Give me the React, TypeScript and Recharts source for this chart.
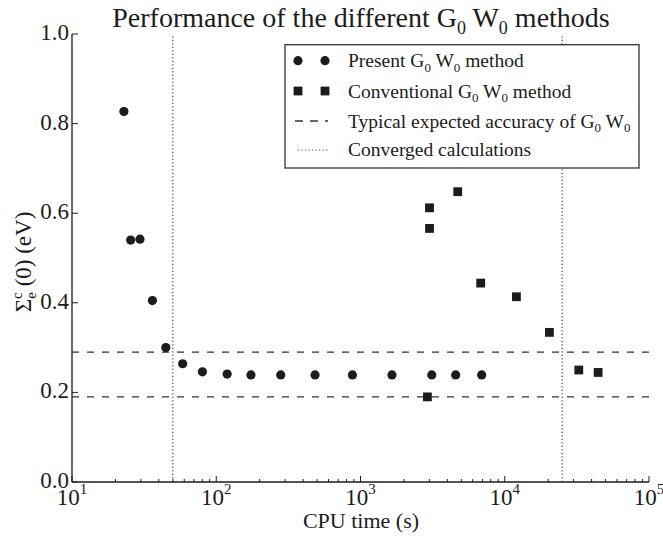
import React from 'react';
import { ScatterChart, Scatter, XAxis, YAxis, ReferenceLine } from 'recharts';

// ---- data ----
const presentTime = [22.9, 25.5, 29.6, 36.1, 44.7, 58.5, 80.2, 119, 174, 280, 484, 879, 1652, 3120, 4570, 6920];
const presentSigma = [0.827, 0.540, 0.542, 0.405, 0.300, 0.264, 0.246, 0.241, 0.239, 0.239, 0.239, 0.239, 0.239, 0.239, 0.239, 0.239];
const conventionalTime = [2910, 3010, 3010, 4720, 6810, 12050, 20400, 32600, 44400];
const conventionalSigma = [0.190, 0.612, 0.566, 0.648, 0.444, 0.4135, 0.334, 0.250, 0.2445];
const accuracyBounds = [0.19, 0.29];
const convergedTimes = [50, 25000];
const xMajorTicks = [10, 100, 1000, 10000, 100000];
const xTickExponents = ['1', '2', '3', '4', '5'];
const xMinorMultipliers = [2, 3, 4, 5, 6, 7, 8, 9];
const yTicks = [0, 0.2, 0.4, 0.6, 0.8, 1.0];
const yTickLabels = ['0.0', '0.2', '0.4', '0.6', '0.8', '1.0'];
const legendLabels = ['Present', 'Conventional', 'Typical expected accuracy of', 'Converged calculations'];

const presentData = presentTime.map((t, i) => ({ x: t, y: presentSigma[i] }));
const conventionalData = conventionalTime.map((t, i) => ({ x: t, y: conventionalSigma[i] }));
const xMinorTicks: number[] = [];
xMajorTicks.slice(0, -1).forEach((d) => xMinorMultipliers.forEach((m) => xMinorTicks.push(m * d)));
const xAllTicks = [...xMajorTicks, ...xMinorTicks].sort((a, b) => a - b);

const INK = '#1c1c1c';
const FONT = "'Liberation Serif', 'DejaVu Serif', serif";
const MAJOR = 6;
const MINOR = 3;

const BottomTick = (props: any) => {
  const { x, y, payload } = props;
  const idx = xMajorTicks.indexOf(payload.value);
  const major = idx >= 0;
  return (
    <g>
      <line x1={x} x2={x} y1={y} y2={y - (major ? MAJOR : MINOR)} stroke={INK} strokeWidth={1} />
      {major && (
        <text x={x} y={y + 23} textAnchor="middle" fontFamily={FONT} fontSize={23} fill={INK}>
          <tspan>10</tspan>
          <tspan dy={-11} fontSize={15}>{xTickExponents[idx]}</tspan>
        </text>
      )}
    </g>
  );
};

const TopTick = (props: any) => {
  const { x, y, payload } = props;
  const major = xMajorTicks.indexOf(payload.value) >= 0;
  return <line x1={x} x2={x} y1={y} y2={y + (major ? MAJOR : MINOR)} stroke={INK} strokeWidth={1} />;
};

const LeftTick = (props: any) => {
  const { x, y, payload } = props;
  const idx = yTicks.indexOf(payload.value);
  return (
    <g>
      <line x1={x} x2={x + MAJOR} y1={y} y2={y} stroke={INK} strokeWidth={1} />
      <text x={x - 3} y={y + 6} textAnchor="end" fontFamily={FONT} fontSize={23} fill={INK}>
        {yTickLabels[idx]}
      </text>
    </g>
  );
};

const RightTick = (props: any) => {
  const { x, y } = props;
  return <line x1={x} x2={x - MAJOR} y1={y} y2={y} stroke={INK} strokeWidth={1} />;
};

const CircleMark = (p: any) => <circle cx={p.cx} cy={p.cy} r={4.6} fill={INK} />;
const SquareMark = (p: any) => (
  <rect x={p.cx - 4.4} y={p.cy - 4.4} width={8.8} height={8.8} fill={INK} />
);

const G0W0 = ({ size, sub }: { size: number; sub: number }) => (
  <>
    <tspan>G</tspan>
    <tspan dy={size * 0.25} fontSize={sub}>0</tspan>
    <tspan dy={-size * 0.25}> W</tspan>
    <tspan dy={size * 0.25} fontSize={sub}>0</tspan>
    <tspan dy={-size * 0.25}> </tspan>
  </>
);

export default function App() {
  return (
    <div style={{ position: 'absolute', left: 0, top: 0, width: 663, height: 539, background: '#fff' }}>
      <ScatterChart
        width={663}
        height={539}
        margin={{ top: 34, right: 14, bottom: 0, left: 0 }}
        style={{ position: 'absolute', left: 0, top: 0 }}
      >
        <XAxis
          xAxisId="b"
          dataKey="x"
          type="number"
          scale="log"
          domain={[10, 100000]}
          allowDataOverflow
          ticks={xAllTicks}
          interval={0}
          tickSize={0}
          tickMargin={0}
          tickLine={false}
          tick={(p: any) => <BottomTick {...p} />}
          axisLine={{ stroke: INK, strokeWidth: 1.3 }}
          height={57}
        />
        <XAxis
          xAxisId="t"
          orientation="top"
          dataKey="x"
          type="number"
          scale="log"
          domain={[10, 100000]}
          allowDataOverflow
          ticks={xAllTicks}
          interval={0}
          tickSize={0}
          tickMargin={0}
          tickLine={false}
          tick={(p: any) => <TopTick {...p} />}
          axisLine={{ stroke: INK, strokeWidth: 1.3 }}
          height={0}
        />
        <YAxis
          yAxisId="l"
          dataKey="y"
          type="number"
          domain={[0, 1]}
          allowDataOverflow
          ticks={yTicks}
          interval={0}
          tickSize={0}
          tickMargin={0}
          tickLine={false}
          tick={(p: any) => <LeftTick {...p} />}
          axisLine={{ stroke: INK, strokeWidth: 1.3 }}
          width={72}
        />
        <YAxis
          yAxisId="r"
          orientation="right"
          dataKey="y"
          type="number"
          domain={[0, 1]}
          allowDataOverflow
          ticks={yTicks}
          interval={0}
          tickSize={0}
          tickMargin={0}
          tickLine={false}
          tick={(p: any) => <RightTick {...p} />}
          axisLine={{ stroke: INK, strokeWidth: 1.3 }}
          width={0}
        />
        {accuracyBounds.map((v) => (
          <ReferenceLine
            key={'h' + v}
            xAxisId="b"
            yAxisId="l"
            y={v}
            stroke="#333"
            strokeWidth={1.3}
            strokeDasharray="7 8"
            ifOverflow="hidden"
          />
        ))}
        {convergedTimes.map((v) => (
          <ReferenceLine
            key={'v' + v}
            xAxisId="b"
            yAxisId="l"
            x={v}
            stroke="#444"
            strokeWidth={1.2}
            strokeDasharray="1.2 2.3"
            ifOverflow="hidden"
          />
        ))}
        <Scatter
          xAxisId="b"
          yAxisId="l"
          data={presentData}
          shape={CircleMark}
          isAnimationActive={false}
        />
        <Scatter
          xAxisId="b"
          yAxisId="l"
          data={conventionalData}
          shape={SquareMark}
          isAnimationActive={false}
        />
      </ScatterChart>
      <svg
        width={663}
        height={539}
        style={{ position: 'absolute', left: 0, top: 0, pointerEvents: 'none' }}
        fontFamily={FONT}
        fill={INK}
      >
        {/* title */}
        <text x={361} y={27} textAnchor="middle" fontSize={28}>
          <tspan>Performance of the different </tspan>
          <G0W0 size={28} sub={18} />
          <tspan> methods</tspan>
        </text>
        {/* x label */}
        <text x={361} y={528} textAnchor="middle" fontSize={22}>
          CPU time (s)
        </text>
        {/* y label */}
        <text transform="translate(31,262) rotate(-90)" fontSize={23} textAnchor="middle">
          <tspan>Σ</tspan>
          <tspan dy={-9} fontSize={15}>c</tspan>
          <tspan dx={-6.5} dy={14} fontSize={15}>e</tspan>
          <tspan dy={-5}> (0) (eV)</tspan>
        </text>
        {/* legend */}
        <rect x={285} y={44.7} width={354} height={123.3} fill="#fff" stroke="#333" strokeWidth={1.3} />
        <circle cx={298} cy={60.7} r={4.6} fill={INK} />
        <circle cx={325} cy={60.7} r={4.6} fill={INK} />
        <rect x={293.6} y={86.6} width={8.8} height={8.8} fill={INK} />
        <rect x={320.6} y={86.6} width={8.8} height={8.8} fill={INK} />
        <line x1={295} x2={328} y1={121} y2={121} stroke="#333" strokeWidth={1.3} strokeDasharray="8 7" />
        <line x1={298} x2={328} y1={150} y2={150} stroke="#444" strokeWidth={1.2} strokeDasharray="1.2 2.3" />
        <text x={348} y={67} fontSize={19.5}>
          <tspan>{legendLabels[0]} </tspan>
          <G0W0 size={19.5} sub={13} />
          <tspan> method</tspan>
        </text>
        <text x={348} y={97.5} fontSize={19.5}>
          <tspan>{legendLabels[1]} </tspan>
          <G0W0 size={19.5} sub={13} />
          <tspan> method</tspan>
        </text>
        <text x={348} y={127.5} fontSize={19.5}>
          <tspan>{legendLabels[2]} </tspan>
          <G0W0 size={19.5} sub={13} />
        </text>
        <text x={348} y={156} fontSize={19.5}>
          {legendLabels[3]}
        </text>
      </svg>
    </div>
  );
}
